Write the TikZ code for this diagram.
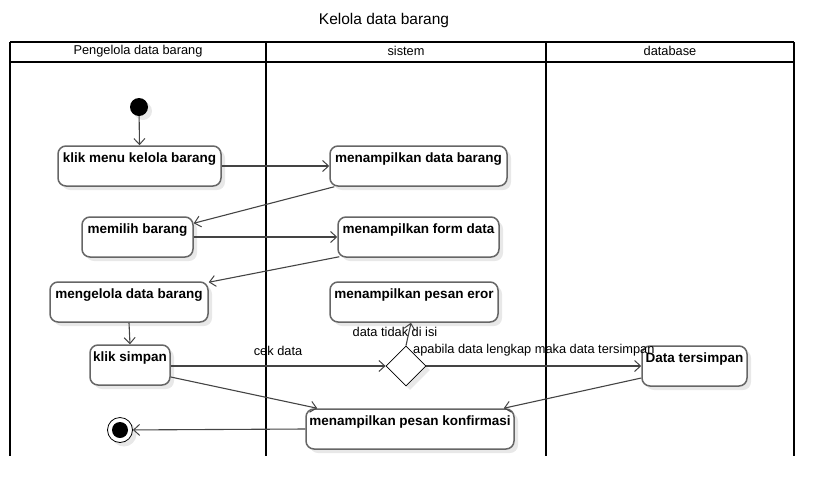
\documentclass[tikz,border=0pt]{standalone}
\usepackage{fontspec}
\setmainfont{Liberation Sans}
\usetikzlibrary{shapes.geometric,arrows.meta,calc,shadows}
\definecolor{boxline}{HTML}{666666}
\definecolor{edgeline}{HTML}{444444}
\definecolor{shadowc}{HTML}{E8E8E8}
\tikzset{
  abox/.style={draw=boxline, line width=1.5pt, rounded corners=8pt, fill=white,
    minimum height=40pt, inner sep=0pt,
    drop shadow={shadow xshift=4pt, shadow yshift=-4pt, fill=shadowc, opacity=1}},
  atext/.style={font=\fontsize{13.5}{15}\selectfont\bfseries, inner sep=0pt, anchor=north, yshift=-7.5pt},
  lane/.style={draw=black, line width=2pt},
  flow/.style={draw=edgeline, line width=1.1pt, -{Straight Barb[length=6pt,width=11pt,line width=1pt]}},
  lbl/.style={font=\fontsize{12.8}{14}\selectfont, inner sep=0pt},
  hdr/.style={font=\fontsize{12.8}{14}\selectfont, inner sep=0pt},
}
\newcommand\actbox[5]{%
  \node[abox, minimum width=#4] (#1) at (#2,#3) {};
  \node[atext] at (#1.north) {#5};
}
\begin{document}
\begin{tikzpicture}[x=1pt,y=-1pt]
\useasboundingbox (0,0) rectangle (834,498);
% title
\node[font=\fontsize{15.5}{18}\selectfont, inner sep=0pt] (title) at (384,20) {Kelola data barang};
% lanes
\draw[lane] (10,42) -- (794,42);
\draw[lane] (10,62) -- (794,62);
\foreach \x in {10,266,546,794} \draw[lane] (\x,42) -- (\x,456);
\node[hdr] (h1) at (138,51) {Pengelola data barang};
\node[hdr] (h2) at (406,51) {sistem};
\node[hdr] (h3) at (670,51) {database};
% start
\node[circle, fill=black, minimum size=18pt, inner sep=0pt,
  drop shadow={shadow xshift=4pt, shadow yshift=-4pt, fill=shadowc, opacity=1}] (start) at (139,107) {};
% activities
\actbox{km}{139.5}{166}{163}{klik menu kelola barang}
\actbox{mdb}{418.5}{166}{177}{menampilkan data barang}
\actbox{mb}{137.5}{237}{111}{memilih barang}
\actbox{mfd}{418.5}{237}{161}{menampilkan form data}
\actbox{mgd}{129}{302}{158}{mengelola data barang}
\actbox{mpe}{414}{302}{168}{menampilkan pesan eror}
\actbox{ks}{130}{365}{80}{klik simpan}
\actbox{dt}{694.5}{366}{105}{Data tersimpan}
\actbox{mpk}{410}{429}{208}{menampilkan pesan konfirmasi}
% decision
\node[diamond, draw=black, line width=0.8pt, fill=white, minimum width=40pt, minimum height=40pt, inner sep=0pt,
  drop shadow={shadow xshift=4pt, shadow yshift=-4pt, fill=shadowc, opacity=1}] (dec) at (406,366) {};
% end
\node[circle, draw=black, line width=0.8pt, fill=white, minimum size=25pt, inner sep=0pt,
  drop shadow={shadow xshift=4pt, shadow yshift=-4pt, fill=shadowc, opacity=1}] (end) at (120,430) {};
\node[circle, fill=black, minimum size=16pt, inner sep=0pt] (endin) at (end.center) {};
% flows
\draw[flow] (start) -- (km.north);
\draw[flow] (km.east) -- (mdb.west);
\draw[flow] ($(mdb.south west)+(5,0)$) -- ($(mb.north east)+(0,7)$);
\draw[flow] (mb.east) -- (mfd.west);
\draw[flow] ($(mfd.south west)+(2,-1)$) -- ($(mgd.north east)+(0,1)$);
\draw[flow] (mgd.south) -- (ks.north);
\draw[flow] (ks.east |- dec.west) -- (dec.west);
\draw[flow] (dec.north) -- ($(mpe.south)+(-3,0)$);
\draw[flow] (dec.east) -- (dt.west);
\draw[flow] ($(ks.east)+(0,12)$) -- ($(mpk.north west)+(12,0)$);
\draw[flow] ($(dt.west)+(0,12)$) -- ($(mpk.north east)+(-11,0)$);
\draw[flow] (mpk.west) -- (end);
% labels
\node[lbl] (l1) at (278,351) {cek data};
\node[lbl] (l2) at (395,332) {data tidak di isi};
\node[lbl, anchor=west] (l3) at (413,350) {apabila data lengkap maka data tersimpan};
\end{tikzpicture}
\end{document}
